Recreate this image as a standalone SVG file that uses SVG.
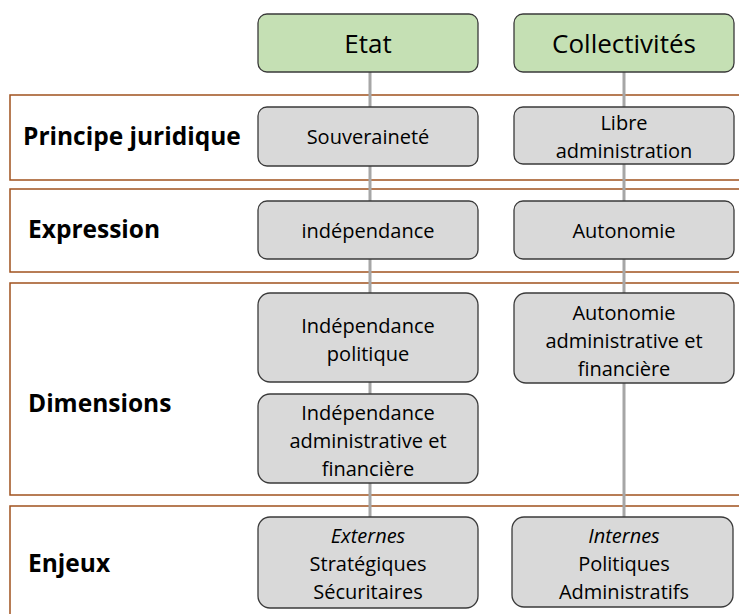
<svg xmlns="http://www.w3.org/2000/svg" width="739" height="614" viewBox="0 0 739 614">
<style>
.band{fill:#fff;stroke:#a0521e;stroke-width:1.5}
.hdr{fill:#c5e0b4;stroke:#3a3a3a;stroke-width:1.3}
.box{fill:#d9d9d9;stroke:#3a3a3a;stroke-width:1.3}
.lbl{font-family:"Open Sans","Liberation Sans",Arial,sans-serif;font-weight:bold;font-size:24.5px;fill:#000}
.t{font-family:"Open Sans","Liberation Sans",Arial,sans-serif;font-size:20px;fill:#000;text-anchor:middle}
.h{font-family:"Open Sans","Liberation Sans",Arial,sans-serif;font-size:26px;fill:#000;text-anchor:middle}
.conn{stroke:#a6a6a6;stroke-width:3;fill:none}
</style>
<rect width="739" height="614" fill="#fff"/>
<g id="bands">
<rect class="band" x="10" y="95" width="740" height="85"/>
<rect class="band" x="10" y="189" width="740" height="83"/>
<rect class="band" x="10" y="283" width="740" height="212"/>
<rect class="band" x="10" y="506" width="740" height="120"/>
</g>
<g id="row-labels">
<text class="lbl" x="23" y="145">Principe juridique</text>
<text class="lbl" x="28" y="238">Expression</text>
<text class="lbl" x="28" y="412">Dimensions</text>
<text class="lbl" x="28" y="572">Enjeux</text>
</g>
<g id="connectors">
<line class="conn" x1="370" y1="72" x2="370" y2="517"/>
<line class="conn" x1="624" y1="72" x2="624" y2="517"/>
</g>
<g id="etat"><rect class="hdr" x="258" y="14" width="220" height="58" rx="9"/><text class="h" x="368" y="53">Etat</text></g>
<g id="collectivites"><rect class="hdr" x="514" y="14" width="220" height="58" rx="9"/><text class="h" x="624" y="53">Collectivités</text></g>
<g id="souverainete"><rect class="box" x="258" y="107" width="220" height="59" rx="9"/><text class="t" x="368" y="144">Souveraineté</text></g>
<g id="libre-administration"><rect class="box" x="514" y="107" width="220" height="57" rx="9"/><text class="t" x="624" y="130">Libre</text><text class="t" x="624" y="158">administration</text></g>
<g id="independance"><rect class="box" x="258" y="201" width="220" height="58" rx="9"/><text class="t" x="368" y="238">indépendance</text></g>
<g id="autonomie"><rect class="box" x="514" y="201" width="220" height="58" rx="9"/><text class="t" x="624" y="238">Autonomie</text></g>
<g id="independance-politique"><rect class="box" x="258" y="293" width="220" height="89" rx="12"/><text class="t" x="368" y="333">Indépendance</text><text class="t" x="368" y="361">politique</text></g>
<g id="autonomie-admin"><rect class="box" x="514" y="293" width="220" height="90" rx="12"/><text class="t" x="624" y="320">Autonomie</text><text class="t" x="624" y="348">administrative et</text><text class="t" x="624" y="376">financière</text></g>
<g id="independance-admin"><rect class="box" x="258" y="394" width="220" height="89" rx="12"/><text class="t" x="368" y="420">Indépendance</text><text class="t" x="368" y="448">administrative et</text><text class="t" x="368" y="476">financière</text></g>
<g id="enjeux-etat"><rect class="box" x="258" y="517" width="220" height="91" rx="12"/><text class="t" x="368" y="543" font-style="italic">Externes</text><text class="t" x="368" y="571">Stratégiques</text><text class="t" x="368" y="599">Sécuritaires</text></g>
<g id="enjeux-collectivites"><rect class="box" x="512" y="517" width="221" height="90" rx="12"/><text class="t" x="624" y="543" font-style="italic">Internes</text><text class="t" x="624" y="571">Politiques</text><text class="t" x="624" y="599">Administratifs</text></g>
</svg>
